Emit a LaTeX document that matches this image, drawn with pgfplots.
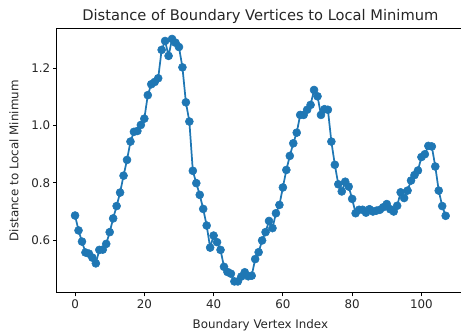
\documentclass[border=0pt]{standalone}
\usepackage{pgfplots}
\pgfplotsset{compat=1.18}
\usepackage{fontspec}
\setmainfont{DejaVu Sans}
\definecolor{mplblue}{HTML}{1F77B4}
\definecolor{txt}{HTML}{262626}
\begin{document}
\begin{tikzpicture}
\begin{axis}[
  name=ax,
  scale only axis,
  width=305.8pt, height=198.2pt,
  xmin=-5.35, xmax=112.35,
  ymin=0.416, ymax=1.338,
  xtick={0,20,40,60,80,100},
  ytick={0.6,0.8,1.0,1.2},
  yticklabel style={inner sep=2pt, /pgf/number format/fixed, /pgf/number format/fixed zerofill, /pgf/number format/precision=1},
  xticklabel style={inner sep=2pt},
  /pgf/number format/assume math mode=true,
  tick align=outside,
  major tick length=2.6pt,
  tick style={black, line width=0.6pt},
  xtick pos=bottom, ytick pos=left,
  axis line style={black, line width=0.6pt},
  ticklabel style={font=\fontsize{8.9}{10}\selectfont, text=txt},
  title={Distance of Boundary Vertices to Local Minimum},
  every axis title/.style={font=\fontsize{11}{13}\selectfont, text=txt, at={(axis description cs:0.5,1)}, anchor=center, yshift=9.5pt},
  xlabel={Boundary Vertex Index},
  ylabel={Distance to Local Minimum},
  every axis x label/.style={at={(axis description cs:0.5,-0.1237)}, anchor=center, font=\fontsize{8.9}{10}\selectfont, text=txt},
  every axis y label/.style={at={(axis description cs:-0.1043,0.5)}, rotate=90, anchor=center, font=\fontsize{8.9}{10}\selectfont, text=txt},
]
\addplot[color=mplblue, line width=1.3pt, mark=*, mark size=3pt, mark options={fill=mplblue, draw=mplblue, line width=0.4pt}] coordinates {
(0,0.686) (1,0.634) (2,0.595) (3,0.557) (4,0.553) (5,0.539) (6,0.519) (7,0.566) (8,0.567) (9,0.587)
(10,0.628) (11,0.676) (12,0.719) (13,0.766) (14,0.825) (15,0.880) (16,0.944) (17,0.978) (18,0.981) (19,1.002)
(20,1.024) (21,1.106) (22,1.144) (23,1.152) (24,1.165) (25,1.264) (26,1.295) (27,1.243) (28,1.302) (29,1.289)
(30,1.274) (31,1.203) (32,1.081) (33,1.014) (34,0.842) (35,0.799) (36,0.758) (37,0.709) (38,0.651) (39,0.574)
(40,0.616) (41,0.593) (42,0.566) (43,0.507) (44,0.489) (45,0.483) (46,0.456) (47,0.456) (48,0.473) (49,0.488)
(50,0.474) (51,0.476) (52,0.534) (53,0.558) (54,0.599) (55,0.628) (56,0.667) (57,0.642) (58,0.694) (59,0.723)
(60,0.784) (61,0.845) (62,0.894) (63,0.938) (64,0.975) (65,1.037) (66,1.037) (67,1.055) (68,1.072) (69,1.124)
(70,1.102) (71,1.037) (72,1.057) (73,1.055) (74,0.944) (75,0.863) (76,0.795) (77,0.770) (78,0.804) (79,0.787)
(80,0.744) (81,0.694) (82,0.706) (83,0.706) (84,0.696) (85,0.708) (86,0.700) (87,0.703) (88,0.706) (89,0.715)
(90,0.726) (91,0.708) (92,0.700) (93,0.720) (94,0.767) (95,0.747) (96,0.773) (97,0.808) (98,0.827) (99,0.843)
(100,0.890) (101,0.900) (102,0.929) (103,0.927) (104,0.857) (105,0.773) (106,0.719) (107,0.685)
};
\end{axis}
\pgfresetboundingbox
\useasboundingbox ([xshift=-42.4pt,yshift=-32.25pt]ax.south west) rectangle ([xshift=-2.4pt,yshift=21.5pt]ax.north east);
\end{tikzpicture}
\end{document}
